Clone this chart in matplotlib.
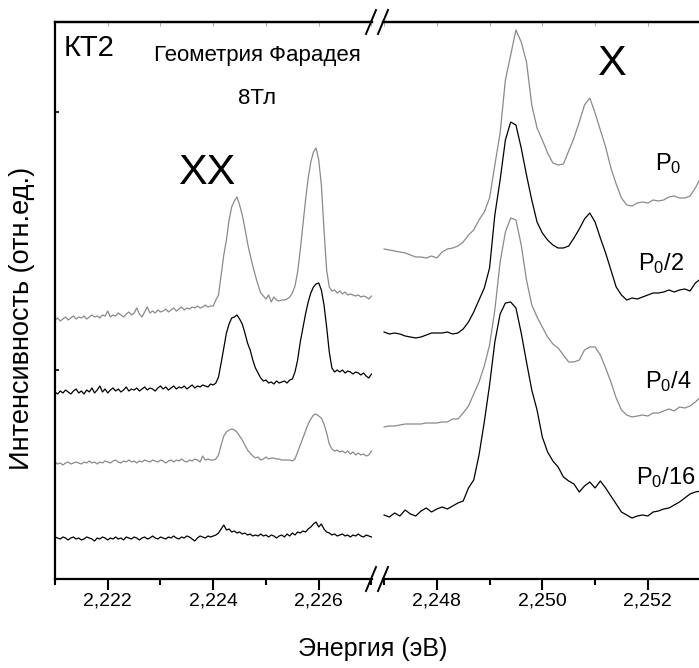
import numpy as np
import matplotlib
matplotlib.use('Agg')
import matplotlib.pyplot as plt
from matplotlib.lines import Line2D
from matplotlib.ticker import FixedLocator, FuncFormatter

plt.rcParams['font.family'] = ['Liberation Sans', 'DejaVu Sans']
plt.rcParams['mathtext.fontset'] = 'custom'
plt.rcParams['mathtext.rm'] = 'Liberation Sans'
plt.rcParams['mathtext.it'] = 'Liberation Sans'

# ---------------- data (arb. units) ----------------
# left window (XX), energies 2.2210 .. 2.2270 eV, uniform sampling
E_LEFT_RANGE = (2.2210, 2.2270)
xx_P0 = [259, 261, 258, 260, 262, 259, 261, 263, 260, 262,
         261, 263, 260, 262, 264, 262, 263, 261, 264, 263,
         268, 262, 264, 263, 266, 264, 262, 265, 267, 264,
         266, 271, 265, 262, 267, 272, 266, 268, 266, 269,
         267, 268, 270, 267, 269, 271, 268, 270, 272, 269,
         271, 270, 272, 271, 273, 271, 272, 274, 272, 273,
         273, 279, 284, 304, 324, 339, 359, 372, 378, 382,
         374, 364, 351, 336, 324, 313, 303, 294, 286, 283,
         280, 284, 277, 282, 279, 278, 279, 279, 280, 282,
         286, 293, 307, 329, 354, 379, 401, 417, 427, 431,
         419, 394, 349, 309, 292, 288, 289, 286, 288, 285,
         287, 284, 285, 284, 283, 284, 282, 283, 282, 280,
         283]
xx_P0_2 = [187, 185, 188, 186, 189, 187, 185, 188, 190, 186,
           188, 185, 189, 187, 191, 186, 189, 193, 187, 190,
           186, 189, 191, 188, 190, 187, 189, 192, 188, 190,
           189, 191, 188, 190, 192, 189, 191, 190, 188, 191,
           193, 190, 192, 189, 191, 193, 190, 192, 191, 193,
           190, 192, 194, 191, 193, 192, 194, 193, 192, 195,
           194, 196, 202, 216, 231, 246, 255, 261, 262, 264,
           260, 255, 246, 236, 229, 219, 211, 206, 201, 198,
           199, 196, 197, 195, 198, 196, 197, 198, 196, 199,
           200, 207, 219, 237, 251, 265, 277, 286, 292, 295,
           296, 289, 274, 252, 227, 211, 207, 209, 207, 209,
           206, 208, 207, 205, 207, 206, 204, 206, 203, 201,
           205]
xx_P0_4 = [117, 115, 116, 114, 116, 117, 115, 116, 117, 116,
           115, 117, 116, 118, 116, 117, 115, 117, 116, 118,
           117, 116, 118, 119, 117, 116, 118, 117, 119, 117,
           118, 116, 118, 117, 119, 118, 117, 119, 118, 117,
           119, 118, 116, 118, 119, 117, 119, 118, 120, 118,
           117, 119, 118, 120, 119, 117, 123, 119, 120, 119,
           119, 120, 124, 134, 143, 147, 149, 150, 149, 147,
           143, 139, 134, 129, 126, 123, 121, 122, 119, 120,
           122, 120, 121, 121, 120, 120, 119, 119, 119, 119,
           118, 120, 127, 134, 141, 148, 155, 160, 164, 165,
           163, 161, 155, 146, 135, 130, 128, 129, 127, 128,
           126, 128, 125, 127, 124, 126, 124, 125, 123, 124,
           128]
xx_P0_16 = [42, 41, 40, 42, 41, 39, 41, 42, 40, 41,
            39, 40, 42, 41, 40, 38, 41, 40, 42, 41,
            39, 41, 40, 42, 40, 41, 39, 42, 41, 40,
            42, 41, 39, 41, 42, 40, 41, 43, 41, 40,
            42, 41, 40, 42, 41, 43, 41, 40, 42, 41,
            43, 42, 40, 38, 41, 43, 42, 41, 43, 42,
            43, 44, 46, 50, 54, 49, 50, 47, 48, 46,
            47, 45, 46, 44, 45, 43, 44, 43, 45, 43,
            44, 42, 44, 43, 41, 43, 44, 42, 45, 43,
            46, 44, 47, 46, 48, 47, 50, 52, 55, 57,
            52, 55, 50, 47, 46, 44, 45, 43, 44, 45,
            43, 44, 42, 44, 43, 45, 43, 42, 44, 43,
            42]

# right window (X), energies 2.2470 .. 2.2530 eV, uniform sampling
E_RIGHT_RANGE = (2.2470, 2.2530)
x_P0 = [330, 329, 328, 327, 326, 324, 322, 322, 321, 323,
        321, 327, 330, 331, 333, 337, 344, 349, 359, 367,
        381, 414, 446, 499, 524, 549, 537, 517, 474, 451,
        439, 426, 416, 414, 415, 428, 441, 457, 474, 481,
        466, 449, 432, 411, 395, 381, 374, 373, 376, 377,
        376, 379, 378, 379, 382, 383, 381, 381, 383, 391,
        401]
x_P0_2 = [247, 245, 246, 245, 243, 242, 241, 242, 244, 246,
          246, 246, 247, 245, 246, 250, 257, 267, 279, 291,
          311, 364, 399, 439, 457, 454, 431, 404, 379, 357,
          346, 339, 334, 331, 331, 333, 341, 350, 360, 366,
          357, 341, 326, 309, 292, 284, 279, 281, 280, 282,
          284, 286, 286, 287, 289, 287, 289, 290, 288, 296,
          300]
x_P0_4 = [152, 153, 153, 154, 155, 155, 155, 155, 156, 156,
          156, 157, 157, 160, 160, 166, 173, 185, 197, 213,
          234, 269, 317, 347, 361, 359, 334, 299, 274, 262,
          252, 242, 235, 231, 224, 217, 217, 219, 229, 232,
          232, 224, 211, 197, 181, 169, 164, 162, 163, 164,
          163, 166, 166, 168, 170, 168, 172, 171, 173, 177,
          182]
x_P0_16 = [64, 62, 66, 63, 69, 65, 63, 68, 71, 67,
           70, 72, 70, 73, 76, 78, 91, 99, 124, 157,
           194, 237, 265, 276, 277, 271, 246, 217, 189, 169,
           142, 127, 118, 112, 102, 98, 95, 87, 93, 97,
           91, 98, 91, 83, 75, 67, 64, 61, 63, 64,
           63, 67, 68, 70, 71, 74, 77, 81, 85, 87,
           88]

left_series = [xx_P0, xx_P0_2, xx_P0_4, xx_P0_16]
right_series = [x_P0, x_P0_2, x_P0_4, x_P0_16]
series_colors = ['#8a8a8a', 'black', '#8a8a8a', 'black']
series_labels = [r'P$_{0}$', r'P$_{0}$/2', r'P$_{0}$/4', r'P$_{0}$/16']

left_major = [2.222, 2.224, 2.226]
left_minor = [2.221, 2.223, 2.225, 2.227]
right_major = [2.248, 2.250, 2.252]
right_minor = [2.247, 2.249, 2.251]
ytick_pos = [209, 467]

# ---------------- figure ----------------
W, H = 699, 668
fig = plt.figure(figsize=(W / 100, H / 100), dpi=100)


def fx(px):
    return px / W


def fy(py):
    return 1 - py / H


bot, top = 579, 22
ax1 = fig.add_axes([fx(55), fy(bot), fx(372) - fx(55), (bot - top) / H])
ax2 = fig.add_axes([fx(383), fy(bot), 1 - fx(383), (bot - top) / H])

ax1.set_xlim(2.2210, 2.22701)
ax2.set_xlim(2.24698, 2.25297)
for ax in (ax1, ax2):
    ax.set_ylim(0, 557)

for vals, c in zip(left_series, series_colors):
    e = np.linspace(E_LEFT_RANGE[0], E_LEFT_RANGE[1], len(vals))
    ax1.plot(e, vals, color=c, lw=0.9)
for vals, c in zip(right_series, series_colors):
    e = np.linspace(E_RIGHT_RANGE[0], E_RIGHT_RANGE[1], len(vals))
    ax2.plot(e, vals, color=c, lw=0.9)

fmt = FuncFormatter(lambda v, p: f"{v:.3f}".replace('.', ','))
for ax, maj, mnr in ((ax1, left_major, left_minor), (ax2, right_major, right_minor)):
    ax.xaxis.set_major_locator(FixedLocator(maj))
    ax.xaxis.set_minor_locator(FixedLocator(mnr))
    ax.xaxis.set_major_formatter(fmt)
    ax.tick_params(axis='x', which='major', direction='out', length=8, width=1.5,
                   labelsize=14, pad=2)
    ax.tick_params(axis='x', which='minor', direction='out', length=4, width=1.5)
    ax.spines['right'].set_visible(False)
    for s in ('top', 'bottom', 'left'):
        ax.spines[s].set_linewidth(1.6)
    sec = ax.secondary_xaxis('top')
    sec.xaxis.set_major_locator(FixedLocator(maj))
    sec.xaxis.set_minor_locator(FixedLocator(mnr))
    sec.tick_params(which='both', direction='in', length=3, width=0.6,
                    color='#999999', labeltop=False)
    sec.spines['top'].set_linewidth(1.6)

ax1.set_yticks(ytick_pos)
ax1.set_yticklabels([])
ax1.tick_params(axis='y', direction='in', length=3, width=1.2)
ax2.spines['left'].set_visible(False)
ax2.set_yticks([])

# break marks
for ybrk in (top, bot):
    for xc in (371, 383):
        fig.add_artist(Line2D([fx(xc - 5), fx(xc + 5)], [fy(ybrk + 12), fy(ybrk - 12)],
                              color='black', lw=1.4, transform=fig.transFigure))

# texts
fig.text(fx(64), fy(48), 'КТ2', fontsize=21, ha='left', va='center')
fig.text(fx(257), fy(55), 'Геометрия Фарадея', fontsize=16, ha='center', va='center')
fig.text(fx(257), fy(98), '8Тл', fontsize=16, ha='center', va='center')
fig.text(fx(207), fy(173), 'XX', fontsize=31, ha='center', va='center')
fig.text(fx(611), fy(64), 'X', fontsize=31, ha='center', va='center')

label_pos = [(655, 170), (638, 270), (645, 388), (636, 484)]
for lab, (lx, ly) in zip(series_labels, label_pos):
    fig.text(fx(lx), fy(ly), lab, fontsize=17, ha='left', va='baseline')

fig.text(fx(22), fy(318), 'Интенсивность (отн.ед.)', fontsize=19.5, rotation=90,
         ha='center', va='center')
fig.text(fx(373), fy(649), 'Энергия (эВ)', fontsize=18, ha='center', va='center')

fig.savefig('out.png', dpi=100)
